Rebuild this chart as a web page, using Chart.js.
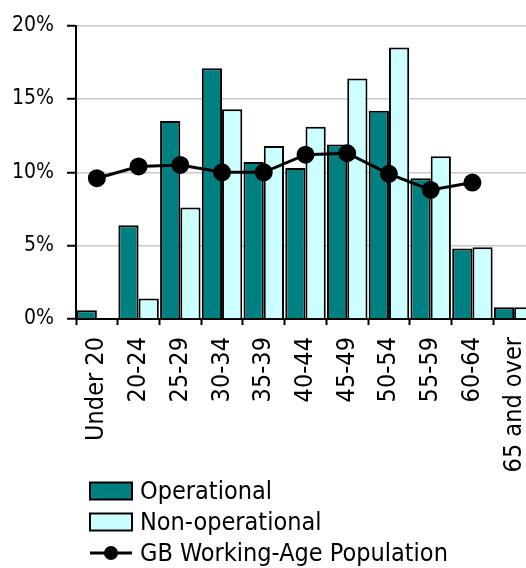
<!DOCTYPE html>
<html>
<head>
<meta charset="utf-8">
<script src="https://cdn.jsdelivr.net/npm/chart.js@4.4.1/dist/chart.umd.min.js"></script>
<style>
  html, body { margin: 0; padding: 0; background: #fff; overflow: hidden; }
  #wrap { width: 526px; height: 568px; overflow: hidden; position: relative; }
  canvas { display: block; }
</style>
</head>
<body>
<div id="wrap"><canvas id="chart" width="560" height="568"></canvas></div>
<script>
const ageBands = ['Under 20', '20-24', '25-29', '30-34', '35-39', '40-44', '45-49', '50-54', '55-59', '60-64', '65 and over']
const operational = [0.6, 6.4, 13.5, 17.1, 10.7, 10.3, 11.9, 14.2, 9.6, 4.8, 0.8]
const nonOperational = [0, 1.4, 7.6, 14.3, 11.8, 13.1, 16.4, 18.5, 11.1, 4.9, 0.8]
const gbWorkingAge = [9.6, 10.4, 10.5, 10.0, 10.0, 11.2, 11.3, 9.9, 8.8, 9.3, null]
const yTicks = [0, 5, 10, 15, 20]

const FONT = '"DejaVu Sans Condensed", "DejaVu Sans", sans-serif'

// legend drawn as a vertical stack under the axis labels
const stackedLegend = {
  id: 'stackedLegend',
  afterDraw(chart) {
    const ctx = chart.ctx
    const x0 = 90
    const boxW = 42
    const boxH = 17
    const rowY = [491, 522, 553]
    ctx.save()
    ctx.font = '25px ' + FONT
    ctx.textBaseline = 'middle'
    ctx.fillStyle = '#000'
    chart.data.datasets.forEach((ds, i) => {
      const y = rowY[i]
      if (ds.type === 'line') {
        ctx.strokeStyle = ds.borderColor
        ctx.lineWidth = 3
        ctx.beginPath()
        ctx.moveTo(x0, y)
        ctx.lineTo(x0 + boxW, y)
        ctx.stroke()
        ctx.fillStyle = ds.pointBackgroundColor
        ctx.beginPath()
        ctx.arc(x0 + boxW / 2, y, 7, 0, Math.PI * 2)
        ctx.fill()
      } else {
        ctx.fillStyle = ds.backgroundColor
        ctx.fillRect(x0, y - boxH / 2, boxW, boxH)
        ctx.strokeStyle = ds.borderColor
        ctx.lineWidth = 2
        ctx.strokeRect(x0, y - boxH / 2, boxW, boxH)
      }
      ctx.fillStyle = '#000'
      ctx.fillText(ds.label, x0 + boxW + 8, y + 1)
    })
    ctx.restore()
  }
}

new Chart(document.getElementById('chart'), {
  type: 'bar',
  data: {
    labels: ageBands,
    datasets: [
      {
        label: 'Operational',
        data: operational,
        backgroundColor: '#008080',
        borderColor: '#000',
        borderWidth: 2,
        barPercentage: 1,
        categoryPercentage: 0.97,
        order: 1
      },
      {
        label: 'Non-operational',
        data: nonOperational,
        backgroundColor: '#ccffff',
        borderColor: '#000',
        borderWidth: 2,
        barPercentage: 1,
        categoryPercentage: 0.97,
        order: 1
      },
      {
        type: 'line',
        label: 'GB Working-Age Population',
        data: gbWorkingAge,
        borderColor: '#000',
        borderWidth: 3,
        pointBackgroundColor: '#000',
        pointBorderColor: '#000',
        pointRadius: 7.5,
        tension: 0,
        spanGaps: false,
        order: -1
      }
    ]
  },
  options: {
    responsive: false,
    animation: false,
    layout: {
      // canvas is wider than the page: the last category runs past the edge
      padding: { left: 0, right: 25, top: 13.4, bottom: 83.6 }
    },
    plugins: {
      legend: { display: false },
      tooltip: { enabled: false }
    },
    scales: {
      x: {
        afterFit: (axis) => {
          axis.paddingLeft = 0
          axis.paddingRight = 0
        },
        grid: {
          drawOnChartArea: false,
          drawTicks: true,
          tickLength: 6,
          tickColor: '#000',
          tickWidth: 2
        },
        border: { color: '#000', width: 2 },
        ticks: {
          color: '#000',
          font: { family: FONT, size: 25 },
          maxRotation: 90,
          minRotation: 90,
          padding: 12,
          autoSkip: false
        }
      },
      y: {
        min: 0,
        max: 20,
        afterBuildTicks: (axis) => {
          axis.ticks = yTicks.map(v => ({ value: v }))
        },
        afterFit: (axis) => {
          axis.width = 76
        },
        grid: {
          color: '#c8c8c8',
          lineWidth: 1.5,
          tickColor: '#000',
          tickLength: 9,
          tickWidth: 2
        },
        border: { color: '#000', width: 2 },
        ticks: {
          color: '#000',
          font: { family: FONT, size: 21 },
          padding: 13,
          callback: (v) => v + '%'
        }
      }
    }
  },
  plugins: [stackedLegend]
})
</script>
</body>
</html>
